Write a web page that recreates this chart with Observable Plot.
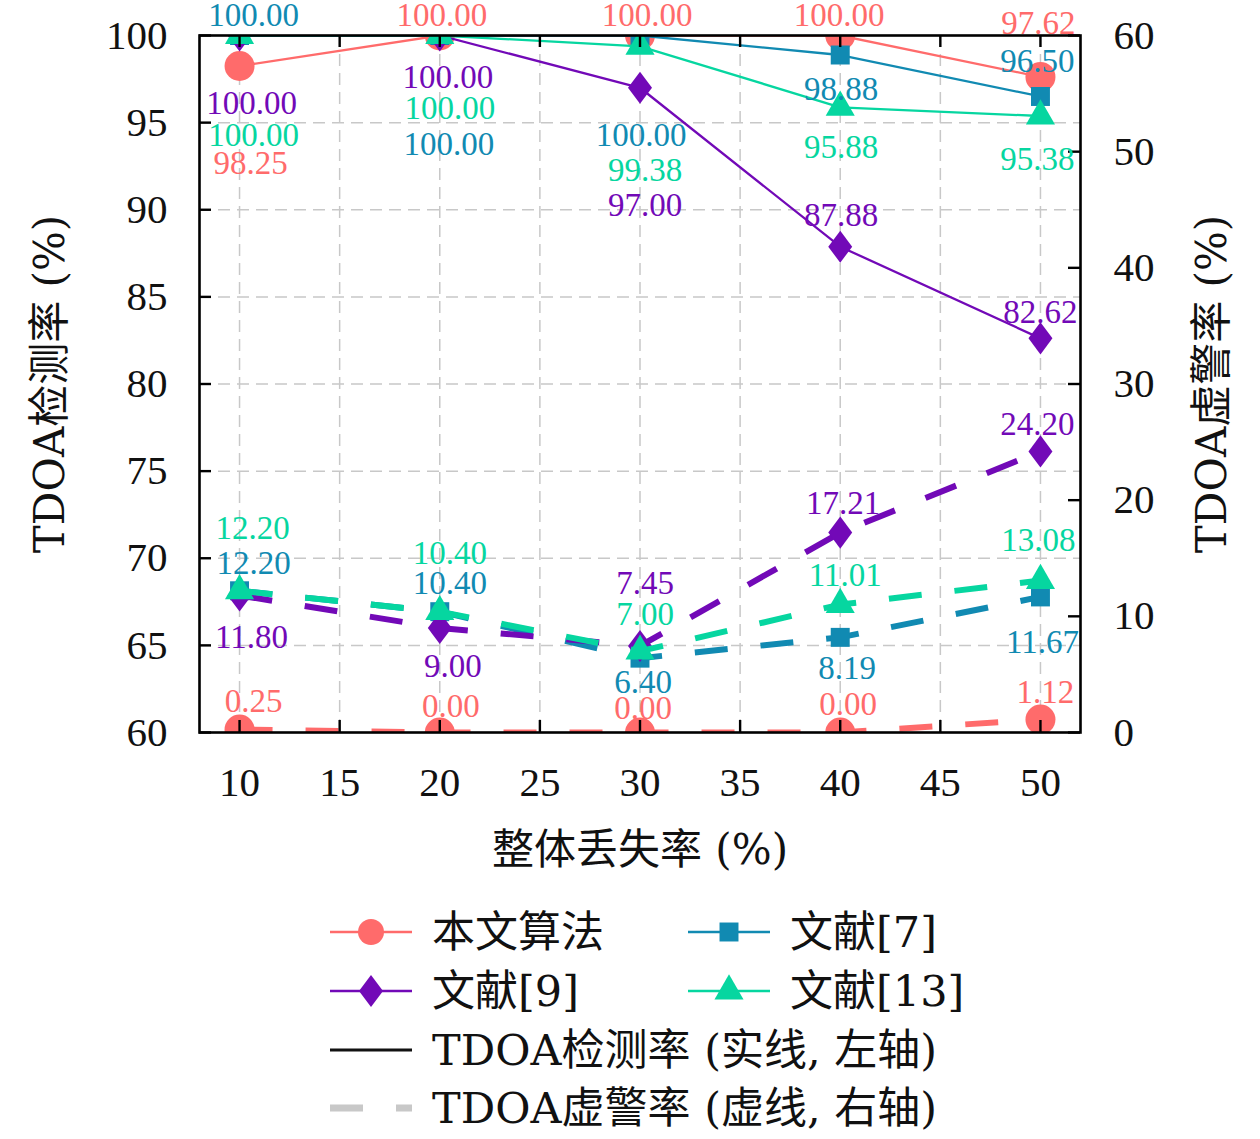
<!DOCTYPE html>
<html><head><meta charset="utf-8">
<script src="https://cdn.jsdelivr.net/npm/d3@7"></script>
<script src="https://cdn.jsdelivr.net/npm/@observablehq/plot@0.6"></script>
<style>
html,body{margin:0;padding:0;background:#fff;}
#chart svg{display:block;}
</style></head><body><div id="chart"></div><script>
// ---------- data ----------
const lossRates = [10, 20, 30, 40, 50];
const seriesNames = ["本文算法", "文献[7]", "文献[9]", "文献[13]"];
const detRed    = [98.25, 100.00, 100.00, 100.00, 97.62];
const detBlue   = [100.00, 100.00, 100.00, 98.88, 96.50];
const detPurple = [100.00, 100.00, 97.00, 87.88, 82.62];
const detGreen  = [100.00, 100.00, 99.38, 95.88, 95.38];
const faRed     = [0.25, 0.00, 0.00, 0.00, 1.12];
const faBlue    = [12.20, 10.40, 6.40, 8.19, 11.67];
const faPurple  = [11.80, 9.00, 7.45, 17.21, 24.20];
const faGreen   = [12.20, 10.40, 7.00, 11.01, 13.08];
const xTicks = [10, 15, 20, 25, 30, 35, 40, 45, 50];
const yLeftTicks = [60, 65, 70, 75, 80, 85, 90, 95, 100];
const yRightTicks = [0, 10, 20, 30, 40, 50, 60];
const xTitle = "整体丢失率 (%)";
const yLeftTitle = "TDOA检测率 (%)";
const yRightTitle = "TDOA虚警率 (%)";
const legendSolid = "TDOA检测率 (实线, 左轴)";
const legendDashed = "TDOA虚警率 (虚线, 右轴)";

// ---------- layout (label nudges in px) ----------
const detNudge = [
  [[11,97],[2,-20],[7,-20],[-1,-20],[-2,-54]],
  [[14,-20],[9,109],[1,100],[1,34],[-3,-35]],
  [[12,68],[8,42],[5,118],[1,-31],[0,-26]],
  [[14,100],[10,73],[5,124],[1,40],[-3,43]]
];
const faNudge = [
  [[14,-28],[11,-26],[3,-24],[8,-28],[5,-27]],
  [[14,-27],[10,-28],[3,24],[7,31],[2,46]],
  [[12,42],[13,38],[5,-63],[3,-29],[-3,-27]],
  [[13,-62],[10,-58],[5,-37],[5,-29],[-2,-40]]
];

const colors = ["#FF6B6B", "#118AB2", "#7209B7", "#06D6A0"];
const diamond = {draw(ctx, size) {
  const r = Math.sqrt(size / Math.PI), h = r * 1.5, w = r * 1.12;
  ctx.moveTo(0, -h); ctx.lineTo(w, 0); ctx.lineTo(0, h); ctx.lineTo(-w, 0); ctx.closePath();
}};
const symbols = ["circle", "square", diamond, "triangle"];
const radii = [15, 10.7, 10.7, 10.8];
const dets = [detRed, detBlue, detPurple, detGreen];
const fas = [faRed, faBlue, faPurple, faGreen];

// right axis (0..60) mapped onto left scale (60..100)
const rY = v => 60 + v * 40 / 60;

const W = 1260, H = 890;
const mL = 199, mR = 180, mT = 35, mB = 158;
const fw = W - mL - mR, fh = H - mT - mB;
const numFont = "'Liberation Serif', 'Noto Sans CJK SC', serif";
const txtFont = "'DejaVu Serif', 'Noto Sans CJK SC', serif";

const marks = [];
// grid
marks.push(Plot.ruleX(xTicks, {x: d => d, stroke: "#c8c8c8", strokeWidth: 1.5, strokeDasharray: "12,7"}));
marks.push(Plot.ruleY(yLeftTicks.slice(1, -1), {y: d => d, stroke: "#c8c8c8", strokeWidth: 1.5, strokeDasharray: "12,7"}));

// detection (solid, left axis)
dets.forEach((arr, s) => {
  const data = lossRates.map((x, i) => ({x, y: arr[i]}));
  marks.push(Plot.line(data, {x: "x", y: "y", stroke: colors[s], strokeWidth: 2.3, clip: true}));
  marks.push(Plot.dot(data, {x: "x", y: "y", fill: colors[s], stroke: "none", symbol: symbols[s], r: radii[s], clip: true}));
});
// false alarm (dashed, right axis)
fas.forEach((arr, s) => {
  const data = lossRates.map((x, i) => ({x, y: rY(arr[i])}));
  marks.push(Plot.line(data, {x: "x", y: "y", stroke: colors[s], strokeWidth: 6, strokeDasharray: "33,33", strokeLinecap: "butt", clip: true}));
  marks.push(Plot.dot(data, {x: "x", y: "y", fill: colors[s], stroke: "none", symbol: symbols[s], r: radii[s], clip: true}));
});

// frame and inward ticks
marks.push(Plot.frame({stroke: "black", strokeWidth: 2.6}));
const tl = 12;
marks.push(Plot.tickY(yLeftTicks, {y: d => d, stroke: "black", strokeWidth: 2.4, insetRight: fw - tl}));
marks.push(Plot.tickY(yRightTicks, {y: d => rY(d), stroke: "black", strokeWidth: 2.4, insetLeft: fw - tl}));
marks.push(Plot.tickX(xTicks, {x: d => d, stroke: "black", strokeWidth: 2.4, insetTop: fh - tl}));
marks.push(Plot.tickX(xTicks, {x: d => d, stroke: "black", strokeWidth: 2.4, insetBottom: fh - tl}));

// tick labels
marks.push(Plot.text(yLeftTicks, {y: d => d, text: d => String(d), frameAnchor: "left", textAnchor: "end", lineAnchor: "middle", dx: -32, fontSize: 41, fill: "#111", fontFamily: numFont}));
marks.push(Plot.text(yRightTicks, {y: d => rY(d), text: d => String(d), frameAnchor: "right", textAnchor: "start", lineAnchor: "middle", dx: 33, fontSize: 41, fill: "#111", fontFamily: numFont}));
marks.push(Plot.text(xTicks, {x: d => d, text: d => String(d), frameAnchor: "bottom", lineAnchor: "middle", dy: 50, fontSize: 41, fill: "#111", fontFamily: numFont}));

// axis titles
marks.push(Plot.text([xTitle], {text: d => d, frameAnchor: "bottom", textAnchor: "middle", lineAnchor: "middle", dy: 118, fontSize: 42, fill: "#111", fontFamily: txtFont}));
marks.push(Plot.text([yLeftTitle], {text: d => d, frameAnchor: "left", textAnchor: "middle", lineAnchor: "middle", dx: -149, rotate: -90, fontSize: 42, fill: "#111", fontFamily: txtFont}));
marks.push(Plot.text([yRightTitle], {text: d => d, frameAnchor: "right", textAnchor: "middle", lineAnchor: "middle", dx: 132, rotate: -90, fontSize: 42, fill: "#111", fontFamily: txtFont}));

// value labels
dets.forEach((arr, s) => {
  lossRates.forEach((x, i) => {
    const [dx, dy] = detNudge[s][i];
    marks.push(Plot.text([{x, y: arr[i]}], {x: "x", y: "y", text: d => d.y.toFixed(2), dx, dy, fill: colors[s], fontSize: 33, fontFamily: numFont}));
  });
});
fas.forEach((arr, s) => {
  lossRates.forEach((x, i) => {
    const [dx, dy] = faNudge[s][i];
    marks.push(Plot.text([{x, y: rY(arr[i]), v: arr[i]}], {x: "x", y: "y", text: d => d.v.toFixed(2), dx, dy, fill: colors[s], fontSize: 33, fontFamily: numFont}));
  });
});

const chart = Plot.plot({
  width: W, height: H,
  marginLeft: mL, marginRight: mR, marginTop: mT, marginBottom: mB,
  x: {domain: [8, 52], axis: null},
  y: {domain: [60, 100], axis: null},
  style: {fontFamily: numFont, background: "white", overflow: "visible"},
  marks
});
document.getElementById("chart").appendChild(chart);

// ---------- legend ----------
const lg = d3.create("svg").attr("width", W).attr("height", 249)
  .style("display", "block").style("font-family", txtFont);
const rowsY = [42, 101, 160, 218];
const cols = [{x0: 330, x1: 412, tx: 432}, {x0: 688, x1: 770, tx: 790}];
const items = [
  {s: 0, col: 0, row: 0}, {s: 1, col: 1, row: 0},
  {s: 2, col: 0, row: 1}, {s: 3, col: 1, row: 1}
];
items.forEach(({s, col, row}) => {
  const c = cols[col], y = rowsY[row], cx = (c.x0 + c.x1) / 2;
  lg.append("line").attr("x1", c.x0).attr("x2", c.x1).attr("y1", y).attr("y2", y)
    .attr("stroke", colors[s]).attr("stroke-width", 2.6);
  const sym = symbols[s] === "circle" ? d3.symbolCircle : symbols[s] === "square" ? d3.symbolSquare : symbols[s] === "triangle" ? d3.symbolTriangle : diamond;
  const rr = s === 0 ? 13 : radii[s];
  lg.append("path").attr("d", d3.symbol(sym, Math.PI * rr * rr)()).attr("transform", `translate(${cx},${y})`).attr("fill", colors[s]);
  lg.append("text").attr("x", c.tx).attr("y", y).attr("dy", "0.35em").attr("font-size", 43).attr("fill", "#111").text(seriesNames[s]);
});
lg.append("line").attr("x1", 330).attr("x2", 412).attr("y1", rowsY[2]).attr("y2", rowsY[2]).attr("stroke", "#111").attr("stroke-width", 3);
lg.append("text").attr("x", 432).attr("y", rowsY[2]).attr("dy", "0.35em").attr("font-size", 43).attr("fill", "#111").text(legendSolid);
lg.append("line").attr("x1", 330).attr("x2", 412).attr("y1", rowsY[3]).attr("y2", rowsY[3]).attr("stroke", "#c8c8c8").attr("stroke-width", 7).attr("stroke-dasharray", "33,33");
lg.append("text").attr("x", 432).attr("y", rowsY[3]).attr("dy", "0.35em").attr("font-size", 43).attr("fill", "#111").text(legendDashed);
document.body.appendChild(lg.node());
</script></body></html>
